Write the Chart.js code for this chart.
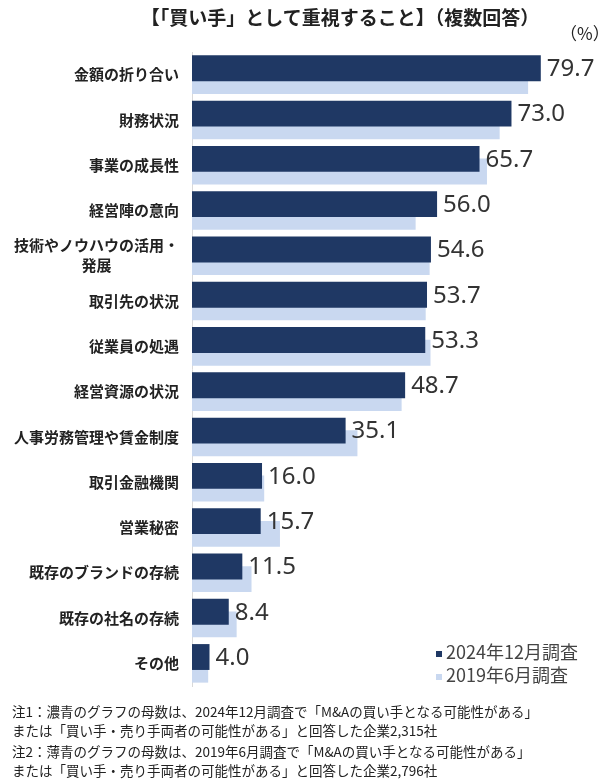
<!DOCTYPE html>
<html>
<head>
<meta charset="utf-8">
<script src="https://cdn.jsdelivr.net/npm/chart.js@4"></script>
<style>
	body { margin:0; background:#fff; font-family:"Noto Sans CJK JP", "Noto Sans", sans-serif; }
	#wrap { position:relative; width:608px; height:780px; }
	#chart { position:absolute; left:0; top:0; }
	.title { position:absolute; left:0; width:680px; top:3px; text-align:center; font-size:19px; font-weight:bold; color:#222; }
	.unit { position:absolute; left:560px; top:20px; font-size:17px; color:#222; }
	.legend { position:absolute; left:436px; top:640px; font-size:18px; color:#444; line-height:23px; }
	.legend span.box { display:inline-block; width:6px; height:6px; margin-right:4px; vertical-align:middle; }
	.notes { position:absolute; left:12px; top:702px; font-size:13.5px; color:#222; line-height:19px; }
	.notes p { margin:0 0 2px 0; }
</style>
</head>
<body>
<div id="wrap">
	<canvas id="chart" width="608" height="780"></canvas>
	<div class="title">【「買い手」として重視すること】（複数回答）</div>
	<div class="unit">（%）</div>
	<div class="legend" id="legend"></div>
	<div class="notes">
		<p>注1：濃青のグラフの母数は、2024年12月調査で「M&amp;Aの買い手となる可能性がある」<br>または「買い手・売り手両者の可能性がある」と回答した企業2,315社</p>
		<p>注2：薄青のグラフの母数は、2019年6月調査で「M&amp;Aの買い手となる可能性がある」<br>または「買い手・売り手両者の可能性がある」と回答した企業2,796社</p>
	</div>
</div>
<script>
// 項目 (y축)
const categories = [
	'金額の折り合い', '財務状況', '事業の成長性', '経営陣の意向',
	['技術やノウハウの活用・', '発展'], '取引先の状況', '従業員の処遇', '経営資源の状況',
	'人事労務管理や賃金制度', '取引金融機関', '営業秘密', '既存のブランドの存続',
	'既存の社名の存続', 'その他'
];
const seriesNames = ['2024年12月調査', '2019年6月調査'];
const values2024 = [79.7, 73.0, 65.7, 56.0, 54.6, 53.7, 53.3, 48.7, 35.1, 16.0, 15.7, 11.5, 8.4, 4.0];
const values2019 = [76.8, 70.3, 67.4, 51.1, 54.3, 53.4, 54.5, 47.9, 37.8, 16.5, 20.1, 13.6, 10.2, 3.7];
const colors = ['#1f3864', '#c9d8f0'];

// 왼쪽 항목 라벨
const yLabelPlugin = {
	id: 'yLabels',
	afterDraw(chart) {
		const ctx = chart.ctx;
		const yScale = chart.scales.y;
		ctx.save();
		ctx.font = 'bold 15px "Noto Sans CJK JP"';
		ctx.fillStyle = '#222';
		ctx.textBaseline = 'middle';
		ctx.textAlign = 'center';
		categories.forEach(function(label, i) {
			const lines = Array.isArray(label) ? label : [label];
			const w = Math.max.apply(null, lines.map(function(l) { return ctx.measureText(l).width; }));
			const cx = 179 - w / 2;
			const cy = yScale.getPixelForValue(i);
			const lh = 20;
			lines.forEach(function(l, j) {
				ctx.fillText(l, cx, cy + (j - (lines.length - 1) / 2) * lh);
			});
		});
		ctx.restore();
	}
};

// 2024 값 라벨
const valueLabelPlugin = {
	id: 'valueLabels',
	afterDatasetsDraw(chart) {
		const ctx = chart.ctx;
		const meta = chart.getDatasetMeta(0);
		ctx.save();
		ctx.font = '24px "Noto Sans", sans-serif';
		ctx.fillStyle = '#333';
		ctx.textBaseline = 'middle';
		ctx.textAlign = 'left';
		meta.data.forEach(function(bar, i) {
			ctx.fillText(values2024[i].toFixed(1), bar.x + 6, bar.y + 1);
		});
		ctx.restore();
	}
};

const chart = new Chart(document.getElementById('chart').getContext('2d'), {
	type: 'bar',
	plugins: [yLabelPlugin, valueLabelPlugin],
	data: {
		labels: categories,
		datasets: [{
			label: seriesNames[0],
			data: values2024,
			backgroundColor: colors[0],
			borderWidth: 0,
			categoryPercentage: 0.56,
			barPercentage: 2.04,
		}, {
			label: seriesNames[1],
			data: values2019,
			backgroundColor: colors[1],
			borderWidth: 0,
			categoryPercentage: 0.56,
			barPercentage: 2.04,
		}]
	},
	options: {
		indexAxis: 'y',
		responsive: false,
		animation: false,
		layout: {
			padding: { left: 184, top: 52, right: 9, bottom: 94 }
		},
		scales: {
			x: {
				display: false,
				min: 0,
				max: 93,
			},
			y: {
				grid: { display: false },
				ticks: { display: false },
				border: { display: true, color: '#d9d9d9', width: 1 },
			}
		},
		plugins: {
			legend: { display: false },
			tooltip: { enabled: false },
		}
	}
});

// 범례
document.getElementById('legend').innerHTML = seriesNames.map(function(name, i) {
	return '<div><span class="box" style="background:' + colors[i] + '"></span>' + name + '</div>';
}).join('');
</script>
</body>
</html>
